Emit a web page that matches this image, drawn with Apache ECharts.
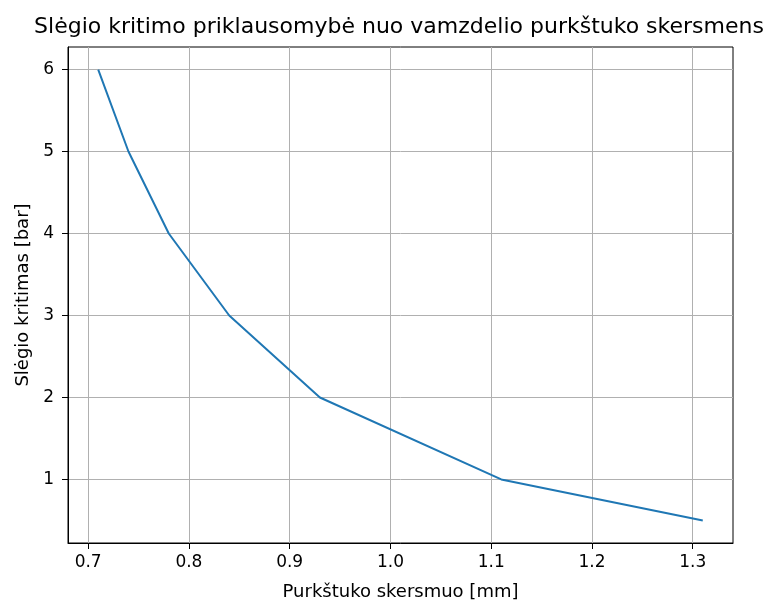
<!DOCTYPE html>
<html>
<head>
<meta charset="utf-8">
<script src="https://cdn.jsdelivr.net/npm/echarts@6/dist/echarts.min.js"></script>
<style>
  html, body { margin: 0; padding: 0; background: #fff; }
  #chart { width: 772px; height: 601px; }
</style>
</head>
<body>
<div id="chart"></div>
<script>
// purkštuko skersmuo [mm] ir slėgio kritimas [bar]
var diameters = [0.71, 0.74, 0.78, 0.84, 0.93, 1.11, 1.31];
var pressureDrop = [6, 5, 4, 3, 2, 1, 0.5];
var xTicks = [0.7, 0.8, 0.9, 1.0, 1.1, 1.2, 1.3];
var yTicks = [1, 2, 3, 4, 5, 6];

var chart = echarts.init(document.getElementById('chart'));

var font = 'DejaVu Sans';

var option = {
  animation: false,
  backgroundColor: '#fff',
  title: {
    text: 'Slėgio kritimo priklausomybė nuo vamzdelio purkštuko skersmens',
    left: 394,
    top: 11,
    textAlign: 'center',
    textStyle: { fontFamily: font, fontSize: 22, fontWeight: 'normal', color: '#000' }
  },
  grid: {
    left: 68, right: 39, top: 47, bottom: 58,
    outerBoundsMode: 'none',
    containLabel: false,
    show: true, borderColor: '#000', borderWidth: 1
  },
  xAxis: {
    type: 'value',
    min: 0.68,
    max: 1.34,
    name: 'Purkštuko skersmuo [mm]',
    nameLocation: 'middle',
    nameGap: 40,
    nameTextStyle: { fontFamily: font, fontSize: 18, color: '#000' },
    axisLine: { show: true, onZero: false, lineStyle: { color: '#000', width: 1 } },
    axisTick: { show: true, length: 6, inside: false, customValues: xTicks, lineStyle: { color: '#000' } },
    axisLabel: {
      customValues: xTicks,
      margin: 11,
      fontFamily: font, fontSize: 17, color: '#000',
      formatter: function (v) { return v.toFixed(1); }
    },
    splitLine: { show: true, lineStyle: { color: '#b0b0b0', width: 1 } }
  },
  yAxis: {
    type: 'value',
    min: 0.225,
    max: 6.275,
    name: 'Slėgio kritimas [bar]',
    nameLocation: 'middle',
    nameGap: 36,
    nameTextStyle: { fontFamily: font, fontSize: 18, color: '#000' },
    axisLine: { show: true, onZero: false, lineStyle: { color: '#000', width: 1 } },
    axisTick: { show: true, length: 6, inside: false, customValues: yTicks, lineStyle: { color: '#000' } },
    axisLabel: {
      customValues: yTicks,
      margin: 14,
      fontFamily: font, fontSize: 17, color: '#000'
    },
    splitLine: { show: true, lineStyle: { color: '#b0b0b0', width: 1 } }
  },
  series: [{
    type: 'line',
    data: diameters.map(function (d, i) { return [d, pressureDrop[i]]; }),
    showSymbol: false,
    lineStyle: { color: '#1f77b4', width: 2 },
    itemStyle: { color: '#1f77b4' }
  }]
};

chart.setOption(option);
</script>
</body>
</html>
